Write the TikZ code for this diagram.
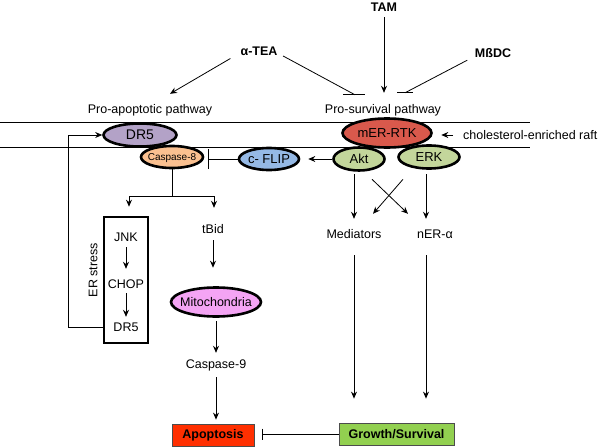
\documentclass[tikz,border=0pt]{standalone}
\usepackage{fontspec}
\setmainfont{Liberation Sans}
\usetikzlibrary{shapes.geometric,arrows.meta}
\definecolor{dr5c}{HTML}{B3A2C7}
\definecolor{c8c}{HTML}{FAC090}
\definecolor{flipc}{HTML}{95B9E5}
\definecolor{merc}{HTML}{D9594C}
\definecolor{aktc}{HTML}{C3D69B}
\definecolor{mitoc}{HTML}{F4A4F4}
\definecolor{apoc}{HTML}{FF2F00}
\definecolor{growc}{HTML}{92D050}
\begin{document}
\begin{tikzpicture}[x=1pt,y=-1pt,
 txt/.style={inner sep=0pt,text height=8.6pt,text depth=0pt,font=\fontsize{12.5}{14}\selectfont},
 btxt/.style={txt,font=\fontsize{12.5}{14}\selectfont\bfseries},
 ell/.style={ellipse,draw,line width=2.6pt,inner sep=0pt,font=\fontsize{12.5}{14}\selectfont},
 rbox/.style={rectangle,draw=black!70,line width=0.8pt,inner sep=0pt,font=\fontsize{12.5}{14}\selectfont\bfseries},
 ln/.style={line width=0.8pt},
 arr/.style={ln,-{Stealth[length=7pt,width=6pt]}},
]
\useasboundingbox (0,0) rectangle (600,447);
% membrane
\coordinate (mTL) at (0,122); \coordinate (mTR) at (530,122);
\coordinate (mBL) at (0,147); \coordinate (mBR) at (530,147);
\draw[ln] (mTL) -- (mTR);
\draw[ln] (mBL) -- (mBR);

% top texts
\node[btxt] (tea) at (259,51) {α-TEA};
\node[btxt] (tam) at (384,7.5) {TAM};
\node[btxt] (mbdc) at (493,53) {MßDC};
\node[txt] (proapo) at (150,109) {Pro-apoptotic pathway};
\node[txt] (prosurv) at (383,109) {Pro-survival pathway};
\node[txt,anchor=west] (raft) at (463,135) {cholesterol-enriched raft};

% membrane proteins
\node[ell,fill=dr5c,minimum width=73pt,minimum height=23pt,font=\fontsize{14}{16}\selectfont] (dr5) at (140,135) {DR5};
\node[ell,fill=c8c,minimum width=62pt,minimum height=22pt] (casp8) at (172,157) {};
\node[txt,font=\fontsize{10}{12}\selectfont,text height=7pt] (casp8t) at (casp8) {Caspase-8};
\node[ell,fill=merc,minimum width=89pt,minimum height=29pt,font=\fontsize{13}{15}\selectfont] (mer) at (387,133) {mER-RTK};
\node[ell,fill=aktc,minimum width=51pt,minimum height=23pt,font=\fontsize{13}{15}\selectfont] (akt) at (359,159) {Akt};
\node[ell,fill=aktc,minimum width=61pt,minimum height=23pt,font=\fontsize{13}{15}\selectfont] (erk) at (429,157) {ERK};
\node[ell,fill=flipc,minimum width=60pt,minimum height=22pt,font=\fontsize{13}{15}\selectfont] (cflip) at (269,159) {c- FLIP};

% apoptotic branch
\node[txt] (tbid) at (213,229) {tBid};
\node[ell,fill=mitoc,minimum width=90pt,minimum height=29pt] (mito) at (216,302) {};
\node[txt] (mitot) at (mito) {Mitochondria};
\node[txt] (casp9) at (216,364) {Caspase-9};
\node[draw,line width=2.6pt,minimum width=44pt,minimum height=126pt,inner sep=0pt] (erbox) at (126,280) {};
\node[txt] (jnk) at (126,237) {JNK};
\node[txt] (chop) at (126,284) {CHOP};
\node[txt] (dr5b) at (126,327) {DR5};
\node[txt,rotate=90] (ers) at (93,270) {ER stress};

% survival branch
\node[txt] (med) at (354,234) {Mediators};
\node[txt] (nera) at (435,234) {nER-α};

% outcomes
\node[rbox,fill=apoc,minimum width=82pt,minimum height=22pt] (apop) at (213,435) {Apoptosis};
\node[rbox,fill=growc,minimum width=115pt,minimum height=22pt] (grow) at (396.5,434) {Growth/Survival};

% top connectors
\draw[arr] ([shift={(-10,3)}]tea.south west) -- ([shift={(20,-10.7)}]proapo.north);
\coordinate (teaInh) at ([shift={(-28,-9.7)}]prosurv.north);
\draw[ln] ([shift={(5.5,5)}]tea.east) -- (teaInh);
\draw[ln] ([xshift=-12pt]teaInh) -- ([xshift=10pt]teaInh);
\draw[arr,shorten <=5pt,shorten >=11.7pt] (tam.south) -- (tam.south |- prosurv.north);
\coordinate (mbInh) at ([shift={(22,-11.7)}]prosurv.north);
\draw[ln] ([shift={(-7.5,2.7)}]mbdc.south west) -- (mbInh);
\draw[ln] ([xshift=-8pt]mbInh) -- ([xshift=8pt]mbInh);
\draw[arr,shorten <=10pt,shorten >=8.5pt] (raft.west) -- (raft.west -| mer.east);

% membrane level
\draw[arr,shorten >=8pt] (akt.west) -- (akt.west -| cflip.east);
\coordinate (flipInh) at ([xshift=4pt]cflip.west -| casp8.east);
\draw[ln] (cflip.west) -- (flipInh);
\draw[ln] ([shift={(0,-10)}]flipInh) -- ([shift={(0,10)}]flipInh);

% apoptotic connectors
\coordinate (split) at ([shift={(0,27)}]casp8.south);
\draw[ln] (casp8.south) -- (split);
\draw[arr,shorten >=9pt] (split) -| ([xshift=3pt]erbox.north);
\draw[arr,shorten >=16.7pt] (split) -| ([xshift=1pt]tbid.north);
\draw[arr,shorten <=6.7pt,shorten >=18.5pt] (tbid.south) -- (tbid.south |- mito.north);
\draw[arr,shorten <=3.5pt,shorten >=6.7pt] (mito.south) -- (mito.south |- casp9.north);
\draw[arr,shorten <=8.7pt,shorten >=4pt] (casp9.south) -- (casp9.south |- apop.north);
\draw[arr,shorten <=5.7pt,shorten >=10.7pt] (jnk.south) -- (chop.north);
\draw[arr,shorten <=4.7pt,shorten >=5.7pt] (chop.south) -- (dr5b.north);
\coordinate (fb) at ([xshift=-34pt]dr5b -| erbox.west);
\draw[arr] (dr5b -| erbox.west) -- (fb) |- (dr5.west);

% survival connectors
\draw[arr] ([shift={(13,7.5)}]akt.south) -- ([shift={(-27,-15.7)}]nera.north);
\draw[arr] ([shift={(-26,9.5)}]erk.south) -- ([shift={(19,-15.7)}]med.north);
\draw[arr,shorten <=2.5pt,shorten >=10.7pt] (akt.south -| med) -- (med.north);
\draw[arr,shorten <=4.5pt,shorten >=10.7pt] ([xshift=-3pt]erk.south) -- ([xshift=-3pt]erk.south |- nera.north);
\draw[arr,shorten <=16.7pt,shorten >=24pt] (med.south) -- (med.south |- grow.north);
\draw[arr,shorten <=16.7pt,shorten >=24pt] ([xshift=-9pt]nera.south) -- ([xshift=-9pt]nera.south |- grow.north);
\coordinate (growInh) at ([xshift=8pt]grow.west -| apop.east);
\draw[ln] (grow.west) -- (growInh);
\draw[ln] ([shift={(0,-5.5)}]growInh) -- ([shift={(0,5.5)}]growInh);
\end{tikzpicture}
\end{document}
